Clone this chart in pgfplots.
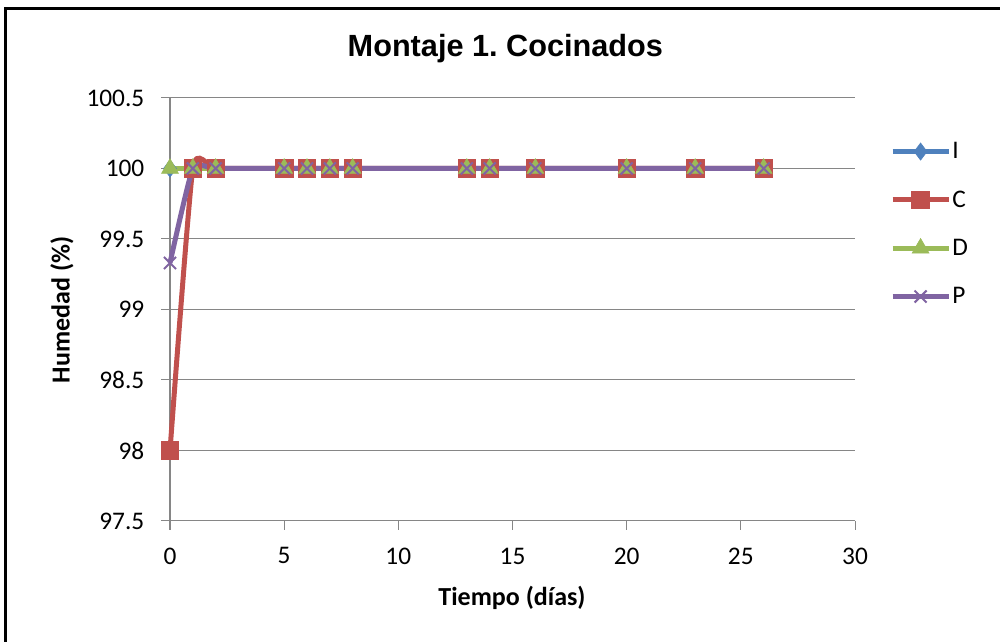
\documentclass[border=0pt]{standalone}
\usepackage{pgfplots}
\pgfplotsset{compat=1.18}
\usepackage{fontspec}
\setmainfont{Carlito}
\newfontfamily\arialf{Liberation Sans}
\definecolor{sI}{HTML}{4F81BD}
\definecolor{sC}{HTML}{C0504D}
\definecolor{sD}{HTML}{9BBB59}
\definecolor{sP}{HTML}{8064A2}
\definecolor{gridc}{RGB}{134,134,134}
\frenchspacing
\begin{document}
\begin{tikzpicture}
\path[use as bounding box] (0pt,0pt) rectangle (750pt,481.5pt);
\draw[line width=2.25pt] (4.1pt,0pt) -- (4.1pt,474.75pt) -- (750pt,474.75pt);
\node[font=\arialf\bfseries\fontsize{23}{27}\selectfont] at (379pt,445pt) {Montaje 1. Cocinados};
\node[font=\bfseries\fontsize{19.5}{23}\selectfont] at (384pt,33pt) {Tiempo (días)};
\node[font=\bfseries\fontsize{19.5}{23}\selectfont,rotate=90] at (46.5pt,249pt) {Humedad (\%)};
\begin{axis}[
  at={(127.5pt,90.75pt)}, anchor=south west,
  scale only axis, width=513.75pt, height=317.25pt,
  xmin=0, xmax=30, ymin=97.5, ymax=100.5,
  xtick={0,5,...,30}, ytick={97.5,98,...,100.5},
  axis lines=left, axis line style={-, gridc, line width=0.75pt},
  tick align=outside, major tick length=6.5pt,
  tick style={gridc, line width=0.75pt},
  ymajorgrids, grid style={gridc, line width=0.75pt},
  tick label style={font=\fontsize{19}{22}\selectfont},
  xticklabel style={yshift=-10pt},
  yticklabel style={xshift=-9.25pt, /pgf/number format/fixed},
  /pgf/number format/assume math mode=true,
  clip=false,
  legend style={at={(1.045,0.702)}, anchor=west, draw=none, fill=none,
    font=\fontsize{19}{22}\selectfont, row sep=20.5pt,
    nodes={inner sep=1pt}},
  legend cell align=left,
  legend image code/.code={\draw[mark repeat=2,mark phase=2] plot coordinates {(0pt,0pt) (21pt,0pt) (42pt,0pt)};},
  every axis plot/.append style={line width=3.75pt, smooth, tension=0.3},
]
\addplot[sI, mark=diamond*, mark size=6.4pt, mark options={solid, line width=0.5pt, fill=sI}] coordinates {
(0,100) (1,100) (2,100) (5,100) (6,100) (7,100) (8,100) (13,100) (14,100) (16,100) (20,100) (23,100) (26,100)};
\addlegendentry{I}
\addplot[sC, mark=square*, mark size=6.6pt, mark options={solid, line width=0.5pt, fill=sC}] coordinates {
(0,98) (1,100) (2,100) (5,100) (6,100) (7,100) (8,100) (13,100) (14,100) (16,100) (20,100) (23,100) (26,100)};
\addlegendentry{C}
\addplot[sD, mark=triangle*, mark size=7.3pt, mark options={solid, line width=0.5pt, fill=sD}] coordinates {
(0,100) (1,100) (2,100) (5,100) (6,100) (7,100) (8,100) (13,100) (14,100) (16,100) (20,100) (23,100) (26,100)};
\addlegendentry{D}
\addplot[sP, mark=x, mark size=6.4pt, mark options={solid, line width=1.5pt}] coordinates {
(0,99.33) (1,100) (2,100) (5,100) (6,100) (7,100) (8,100) (13,100) (14,100) (16,100) (20,100) (23,100) (26,100)};
\addlegendentry{P}
\end{axis}
\end{tikzpicture}
\end{document}
